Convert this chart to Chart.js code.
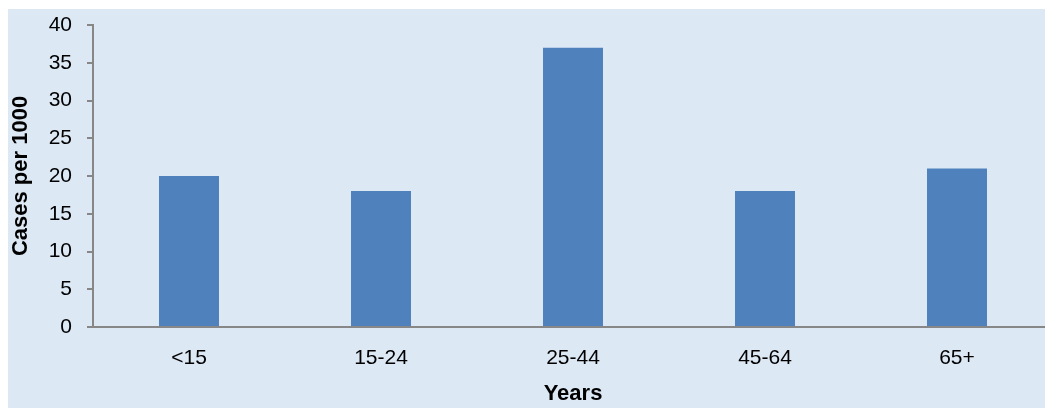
<!DOCTYPE html>
<html>
<head>
<meta charset="utf-8">
<script src="https://cdn.jsdelivr.net/npm/chart.js@4"></script>
<style>
  html, body { margin: 0; padding: 0; background: #fff; overflow: hidden; width: 1045px; height: 408px; }
  #wrap { position: absolute; left: 8px; top: 9px; width: 1054px; height: 399px; background: #dde8f5; }
</style>
</head>
<body>
<div id="wrap"><canvas id="myChart"></canvas></div>
<script>
const categories = ["<15", "15-24", "25-44", "45-64", "65+"];
const cases = [20, 18, 37, 18, 21];
const yTicks = [0, 5, 10, 15, 20, 25, 30, 35, 40];

const ctx = document.getElementById("myChart");
const tickFont = { family: "'Liberation Sans', Arial, sans-serif", size: 21 };
const titleFont = { family: "'Liberation Sans', Arial, sans-serif", size: 22, weight: "bold" };

const myChart = new Chart(ctx, {
  type: "bar",
  data: {
    labels: categories,
    datasets: [
      {
        label: "Cases per 1000",
        data: cases,
        backgroundColor: "#4f81bd",
        barPercentage: 0.3125,
        categoryPercentage: 1,
      },
    ],
  },
  options: {
    responsive: true,
    maintainAspectRatio: false,
    animation: false,
    layout: { padding: { top: 16, right: 9, bottom: 0, left: 0 } },
    scales: {
      x: {
        afterFit: (axis) => {
          axis.height = 81;
        },
        grid: { display: false },
        border: { color: "#878787", width: 2 },
        ticks: { color: "#000", font: tickFont, padding: 11 },
        title: {
          display: true,
          text: "Years",
          color: "#000",
          font: titleFont,
          padding: { top: 0, bottom: 1 },
        },
      },
      y: {
        min: 0,
        max: 40,
        afterFit: (axis) => {
          axis.width = 85;
          // let the layout padding alone decide where the top sits
          axis.paddingTop = 0;
          axis.paddingBottom = 0;
        },
        afterBuildTicks: (axis) => {
          axis.ticks = yTicks.map((v) => ({ value: v }));
        },
        grid: { drawOnChartArea: false, drawTicks: true, tickLength: 6, color: "#878787", lineWidth: 2 },
        border: { color: "#878787", width: 2 },
        ticks: { color: "#000", font: tickFont, padding: 15 },
        title: {
          display: true,
          text: "Cases per 1000",
          color: "#000",
          font: titleFont,
          padding: { top: 0, bottom: 0 },
        },
      },
    },
    plugins: {
      legend: { display: false },
      tooltip: { enabled: false },
    },
  },
});
</script>
</body>
</html>
